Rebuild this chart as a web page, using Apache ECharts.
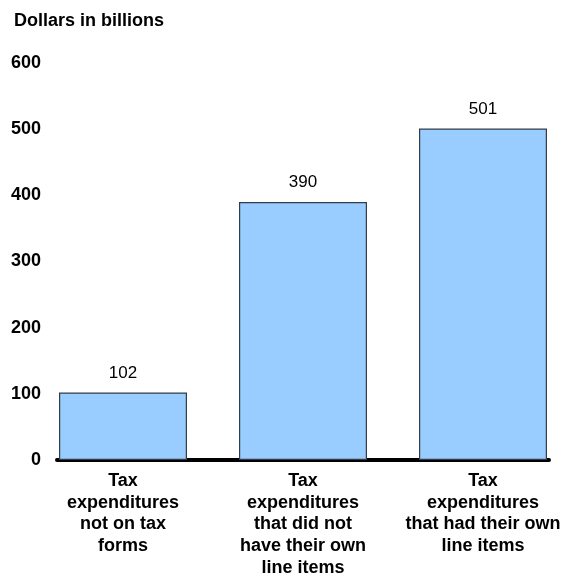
<!DOCTYPE html>
<html><head><meta charset="utf-8">
<script src="https://cdn.jsdelivr.net/npm/echarts@6/dist/echarts.min.js"></script>
<style>html,body{margin:0;padding:0;background:#fff}#c{width:566px;height:578px}</style>
</head><body><div id="c"></div>
<script>
const categories = ["Tax\nexpenditures\nnot on tax\nforms", "Tax\nexpenditures\nthat did not\nhave their own\nline items", "Tax\nexpenditures\nthat had their own\nline items"];
const values = [102, 390, 501];
const yTicks = [0, 100, 200, 300, 400, 500, 600];
const title = "Dollars in billions";

const chart = echarts.init(document.getElementById('c'));
const font = 'Liberation Sans, Arial, sans-serif';
chart.setOption({
  animation: false,
  title: {text: title, left: 9, top: 7, textStyle: {fontFamily: font, fontSize: 18, fontWeight: 'bold', color: '#000'}},
  grid: [
    {left: 57, right: 17, top: 63, bottom: 118, containLabel: false, outerBoundsMode: 'none'},
    {left: 33, width: 540, top: 63, bottom: 118, containLabel: false, outerBoundsMode: 'none'}
  ],
  xAxis: [
    {gridIndex: 0, type: 'category', data: categories, axisLine: {lineStyle: {color: '#000', width: 4}}, axisTick: {show: false}, axisLabel: {show: false}},
    {gridIndex: 1, type: 'category', data: categories, axisLine: {show: false}, axisTick: {show: false},
     axisLabel: {interval: 0, margin: 10, fontFamily: font, fontSize: 18, fontWeight: 'bold', color: '#000', lineHeight: 21.7}}
  ],
  yAxis: [
    {gridIndex: 0, type: 'value', min: 0, max: 600, interval: 100, axisLine: {show: false}, axisTick: {show: false}, splitLine: {show: false},
     axisLabel: {margin: 16, fontFamily: font, fontSize: 18, fontWeight: 'bold', color: '#000', formatter: v => yTicks.includes(v) ? String(v) : ''}},
    {gridIndex: 1, type: 'value', min: 0, max: 600, interval: 100, show: false}
  ],
  series: [{
    type: 'bar', xAxisIndex: 1, yAxisIndex: 1, data: values, barWidth: 128, z: 1,
    itemStyle: {color: '#99ccff', borderColor: '#333d4a', borderWidth: 1.2},
    label: {show: true, position: 'top', distance: 11, fontFamily: font, fontSize: 17, color: '#000'}
  }, {
    type: 'bar', xAxisIndex: 0, yAxisIndex: 0, data: [], z: 5
  }]
});
</script></body></html>
